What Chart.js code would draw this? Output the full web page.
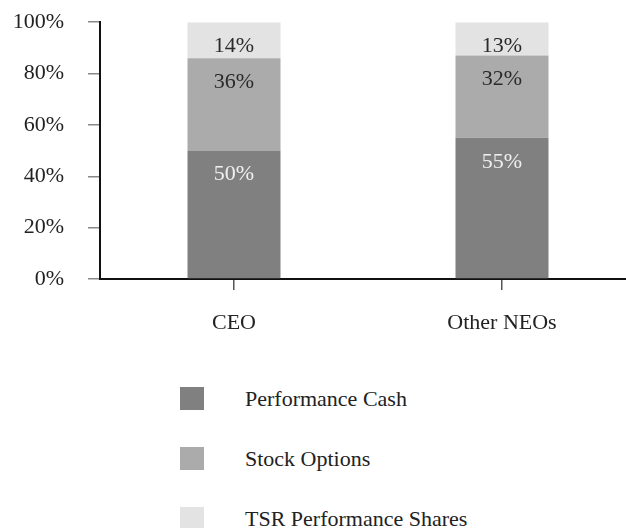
<!DOCTYPE html>
<html>
<head>
<meta charset="utf-8">
<script src="https://cdn.jsdelivr.net/npm/chart.js@4"></script>
<style>
  html, body { margin: 0; padding: 0; background: #fff; overflow: hidden; }
  #wrap { position: relative; width: 626px; height: 528px; overflow: hidden; }
  #chart { position: absolute; left: 0; top: -15px; }
  .legend-row { position: absolute; left: 180px; height: 24px; font-family: "Liberation Serif", "DejaVu Serif", serif; font-size: 22px; color: #222; }
  .legend-row .box { position: absolute; left: 0; top: 0; width: 24px; height: 23px; }
  .legend-row .txt { position: absolute; left: 65px; top: -1px; white-space: nowrap; line-height: 26px; }
</style>
</head>
<body>
<div id="wrap">
  <canvas id="chart" width="636" height="375"></canvas>
  <div id="legend"></div>
</div>
<script>
const categories = ["CEO", "Other NEOs"];
const seriesNames = ["Performance Cash", "Stock Options", "TSR Performance Shares"];
const performanceCash = [50, 55];
const stockOptions = [36, 32];
const tsrShares = [14, 13];
const yTicks = [0, 20, 40, 60, 80, 100];

const colors = ["#808080", "#ababab", "#e3e3e3"];
const labelColors = ["#f0f0f0", "#2a2a2a", "#2a2a2a"];
const serif = "'Liberation Serif', 'DejaVu Serif', serif";

const values = [performanceCash, stockOptions, tsrShares];

// legend as html rows below the chart
const legend = document.getElementById("legend");
seriesNames.forEach((name, i) => {
  const row = document.createElement("div");
  row.className = "legend-row";
  row.style.top = (387 + i * 60) + "px";
  row.innerHTML = `<div class="box" style="background:${colors[i]}"></div><div class="txt">${name}</div>`;
  legend.appendChild(row);
});

// value labels near the top of each segment
const segmentLabels = {
  id: "segmentLabels",
  afterDatasetsDraw(chart) {
    const ctx = chart.ctx;
    ctx.save();
    ctx.font = "22px " + serif;
    ctx.textAlign = "center";
    ctx.textBaseline = "middle";
    chart.data.datasets.forEach((ds, i) => {
      const meta = chart.getDatasetMeta(i);
      meta.data.forEach((bar, j) => {
        ctx.fillStyle = labelColors[i];
        ctx.fillText(ds.data[j] + "%", bar.x, bar.y + 24);
      });
    });
    ctx.restore();
  }
};

new Chart(document.getElementById("chart"), {
  type: "bar",
  data: {
    labels: categories,
    datasets: seriesNames.map((name, i) => ({
      label: name,
      data: values[i],
      backgroundColor: colors[i],
      borderWidth: 0,
      categoryPercentage: 1,
      barPercentage: 0.347
    }))
  },
  options: {
    responsive: false,
    animation: false,
    layout: { padding: { top: 7, left: 0, right: 0, bottom: 0 } },
    plugins: {
      legend: { display: false },
      tooltip: { enabled: false }
    },
    scales: {
      x: {
        stacked: true,
        grid: {
          offset: false,
          drawOnChartArea: false,
          drawTicks: true,
          tickLength: 11,
          color: "#555",
          lineWidth: 1.5
        },
        border: { display: true, color: "#111", width: 2 },
        ticks: {
          color: "#222",
          padding: 20,
          font: { family: serif, size: 22 }
        },
        afterFit(scale) { scale.height = 81; }
      },
      y: {
        stacked: true,
        min: 0,
        max: 100,
        afterBuildTicks(scale) { scale.ticks = yTicks.map(v => ({ value: v })); },
        grid: {
          drawOnChartArea: false,
          drawTicks: true,
          tickLength: 12,
          color: "#888",
          lineWidth: 1.5
        },
        border: { display: true, color: "#111", width: 2 },
        ticks: {
          color: "#222",
          padding: 24,
          font: { family: serif, size: 22 },
          callback: v => v + "%"
        },
        afterFit(scale) { scale.width = 100; }
      }
    }
  },
  plugins: [segmentLabels]
});
</script>
</body>
</html>
